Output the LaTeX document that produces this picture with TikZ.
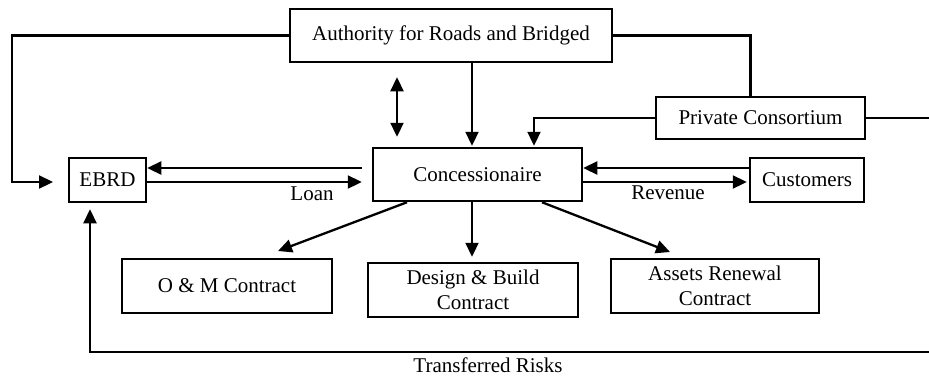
\documentclass[tikz,border=0pt]{standalone}
\usepackage{fontspec}
\setmainfont{Liberation Serif}
\usetikzlibrary{arrows.meta}
\begin{document}
\begin{tikzpicture}[x=1pt,y=-1pt,
  box/.style={draw,line width=2.5pt,inner sep=0pt,align=center,font=\fontsize{21}{24.5}\selectfont},
  lbl/.style={inner sep=0pt,font=\fontsize{21}{24.5}\selectfont},
  conn/.style={line width=2.3pt},
  arr/.style={conn,-{Triangle[length=14pt,width=13pt]}},
  arrs/.style={conn,{Triangle[length=14pt,width=13pt]}-{Triangle[length=14pt,width=13pt]}}]
\useasboundingbox (0,0) rectangle (929,378);
\node[box,minimum width=322pt,minimum height=53pt] (auth) at (451,35.5) {Authority for Roads and Bridged};
\node[box,minimum width=209pt,minimum height=42pt] (pc) at (760.5,118) {Private Consortium};
\node[box,minimum width=209pt,minimum height=53pt] (conc) at (477.5,174.5) {Concessionaire};
\node[box,minimum width=77pt,minimum height=44pt] (ebrd) at (107.5,180) {EBRD};
\node[box,minimum width=114pt,minimum height=44pt] (cust) at (807,180) {Customers};
\node[box,minimum width=210pt,minimum height=54pt] (om) at (227,286) {O \& M Contract};
\node[box,minimum width=210pt,minimum height=54pt] (db) at (473,290) {Design \& Build\\Contract};
\node[box,minimum width=208pt,minimum height=54pt] (ar) at (715,286) {Assets Renewal\\Contract};
% helper coordinates
\coordinate (xl) at (12,0);
\coordinate (xd) at (397,0);
\coordinate (xa) at (472,0);
\coordinate (xp) at (534,0);
\coordinate (xe) at (90,0);
\coordinate (xr) at (945,0);
\coordinate (yu) at (0,168);
\coordinate (yl) at (0,182);
\coordinate (yb) at (0,352);
\coordinate (ebin) at (53,182);
\coordinate (omtip) at (278,251);
\coordinate (artip) at (670,252);
% connectors
\draw[arr] (auth.west) -| (xl |- yl) -- (ebin);
\draw[arrs,shorten <=14pt,shorten >=10pt] (auth.south -| xd) -- (conc.north -| xd);
\draw[arr,shorten >=1pt] (auth.south -| xa) -- (conc.north -| xa);
\draw[conn] (auth.east) -| ([xshift=-10pt]pc.north);
\draw[arr,shorten >=1pt] (pc.west) -| (conc.north -| xp);
\draw[arr,shorten >=6pt] (pc.east) -- (xr |- pc.east) -- (xr |- yb) -| (ebrd.south -| xe);
\draw[arr,shorten <=10pt] (conc.west |- yu) -- (ebrd.east |- yu);
\draw[arr,shorten >=10pt] (ebrd.east |- yl) -- (conc.west |- yl);
\draw[arr] (cust.west |- yu) -- (conc.east |- yu);
\draw[arr,shorten >=2pt] (conc.east |- yl) -- (cust.west |- yl);
\draw[arr] (conc.south -| 407,0) -- (omtip);
\draw[arr,shorten >=5pt] (conc.south -| xa) -- (db.north -| xa);
\draw[arr] (conc.south -| 542,0) -- (artip);
% labels
\node[lbl] (loan) at (312,194) {Loan};
\node[lbl] (rev) at (668,193) {Revenue};
\node[lbl] (tr) at (488,365) {Transferred Risks};
\end{tikzpicture}
\end{document}
